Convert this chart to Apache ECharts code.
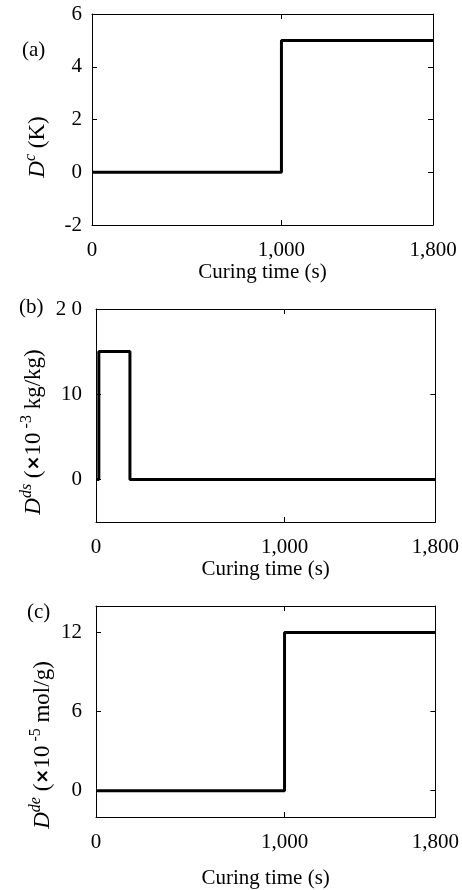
<!DOCTYPE html>
<html>
<head>
<meta charset="utf-8">
<script src="https://cdn.jsdelivr.net/npm/echarts@6/dist/echarts.min.js"></script>
<style>
  html, body { margin: 0; padding: 0; background: #fff; }
  #main { width: 462px; height: 890px; }
</style>
</head>
<body>
<div id="main"></div>
<script>
// panel (a): temperature disturbance
var timeA = [0, 1000, 1000, 1800];
var valueA = [0, 0, 5, 5];
// panel (b): moisture disturbance (x10^-3 kg/kg)
var timeB = [0, 15, 15, 180, 180, 1800];
var valueB = [0, 0, 15, 15, 0, 0];
// panel (c): degree disturbance (x10^-5 mol/g)
var timeC = [0, 1000, 1000, 1800];
var valueC = [0, 0, 12, 12];

var xTicks = [0, 1000, 1800];
var xTickLabels = ["0", "1,000", "1,800"];
var yTicksA = [-2, 0, 2, 4, 6];
var yTickLabelsA = ["-2", "0", "2", "4", "6"];
var yTicksB = [0, 10, 20];
var yTickLabelsB = ["0", "10", "2 0"];
var yTicksC = [0, 6, 12];
var yTickLabelsC = ["0", "6", "12"];

var FONT = "Liberation Serif";
var myChart = echarts.init(document.getElementById("main"));

function pairs(xs, ys) {
  return xs.map(function (x, i) { return [x, ys[i]]; });
}
function labelOf(ticks, labels) {
  return function (v) {
    var i = ticks.indexOf(v);
    return i < 0 ? "" : labels[i];
  };
}

var grids = [
  { left: 92, right: 29, top: 14, height: 211 },
  { left: 96, right: 25, top: 309, height: 213 },
  { left: 96, right: 25, top: 606, height: 213 }
];
var yRanges = [[-2, 6], [-5, 20], [-2, 14]];
var yTicks = [yTicksA, yTicksB, yTicksC];
var yLabels = [yTickLabelsA, yTickLabelsB, yTickLabelsC];
var labelGaps = [10, 14, 14];
var nameGaps = [33, 37, 51];

var line = { onZero: false, lineStyle: { color: "#000", width: 1 } };
var tick = function (vals) {
  return { show: true, inside: true, length: 5, customValues: vals, lineStyle: { color: "#000" } };
};

var xAxis = [], yAxis = [];
grids.forEach(function (g, i) {
  xAxis.push({
    type: "value", gridIndex: i, min: 0, max: 1800, position: "bottom",
    axisLine: line, axisTick: tick(xTicks), splitLine: { show: false },
    axisLabel: {
      customValues: xTicks, margin: 15, color: "#000", fontFamily: FONT, fontSize: 21,
      formatter: labelOf(xTicks, xTickLabels)
    },
    name: "Curing time (s)", nameLocation: "middle", nameGap: nameGaps[i],
    nameTextStyle: { color: "#000", fontFamily: FONT, fontSize: 21 }
  });
  xAxis.push({
    type: "value", gridIndex: i, min: 0, max: 1800, position: "top",
    axisLine: line, axisTick: tick(xTicks), axisLabel: { show: false },
    splitLine: { show: false }
  });
  yAxis.push({
    type: "value", gridIndex: i, min: yRanges[i][0], max: yRanges[i][1], position: "left",
    axisLine: line, axisTick: tick(yTicks[i]), splitLine: { show: false },
    axisLabel: {
      customValues: yTicks[i], margin: labelGaps[i], color: "#000", fontFamily: FONT, fontSize: 21,
      formatter: labelOf(yTicks[i], yLabels[i])
    }
  });
  yAxis.push({
    type: "value", gridIndex: i, min: yRanges[i][0], max: yRanges[i][1], position: "right",
    axisLine: line, axisTick: tick(yTicks[i]), axisLabel: { show: false },
    splitLine: { show: false }
  });
});

var data = [pairs(timeA, valueA), pairs(timeB, valueB), pairs(timeC, valueC)];
var series = data.map(function (d, i) {
  return {
    type: "line", xAxisIndex: i * 2, yAxisIndex: i * 2, data: d,
    showSymbol: false, animation: false,
    lineStyle: { color: "#000", width: 3 }
  };
});

var rich = {
  i: { fontFamily: FONT, fontStyle: "italic", fontSize: 23, color: "#000", verticalAlign: "bottom" },
  s: { fontFamily: FONT, fontStyle: "italic", fontSize: 16, color: "#000", verticalAlign: "bottom", padding: [0, 0, 10, 0] },
  n: { fontFamily: FONT, fontSize: 23, color: "#000", verticalAlign: "bottom" },
  e: { fontFamily: FONT, fontSize: 16, color: "#000", verticalAlign: "bottom", padding: [0, 0, 10, 0] },
  x: { fontFamily: "DejaVu Sans", fontWeight: "bold", fontSize: 18, color: "#000", verticalAlign: "bottom", padding: [0, 0, 2, 0] }
};
function yName(x, y, text) {
  return {
    type: "text", x: x, y: y, rotation: Math.PI / 2,
    style: { text: text, rich: rich, align: "center", verticalAlign: "middle" }
  };
}
function panelTag(x, y, text) {
  return {
    type: "text", x: x, y: y,
    style: { text: text, fontFamily: FONT, fontSize: 21, fill: "#000", align: "left", verticalAlign: "middle" }
  };
}

myChart.setOption({
  animation: false,
  grid: grids,
  xAxis: xAxis,
  yAxis: yAxis,
  series: series,
  graphic: [
    panelTag(22, 50, "(a)"),
    panelTag(19, 307, "(b)"),
    panelTag(27, 612, "(c)"),
    yName(36, 147, "{i|D}{s|c}{n| (K)}"),
    yName(32, 432, "{i|D}{s|ds}{n| (}{x|×}{n|10}{e| -3}{n| kg/kg)}"),
    yName(41, 745, "{i|D}{s|de}{n| (}{x|×}{n|10}{e| -5}{n| mol/g)}")
  ]
});
</script>
</body>
</html>
